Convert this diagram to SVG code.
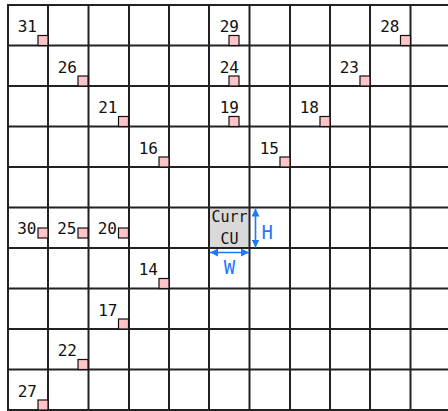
<svg xmlns="http://www.w3.org/2000/svg" width="448" height="411" viewBox="0 0 448 411">
<defs>
<style>
.grid line{stroke:#222;stroke-width:2}
.cand{fill:#ffc4c8;stroke:#111;stroke-width:1.2}
.lbl{font-family:"DejaVu Sans Mono",monospace;font-size:16px;fill:#111;text-anchor:end}
.cu{fill:#d9d9d9}
.cut{font-family:"DejaVu Sans Mono",monospace;font-size:15px;fill:#111;text-anchor:middle}
.dim{stroke:#1f78ff;stroke-width:1.6;fill:none;marker-start:url(#ah);marker-end:url(#ah)}
.dimt{font-family:"DejaVu Sans Mono",monospace;font-size:19px;fill:#1f78ff}
</style>
<marker id="ah" viewBox="0 0 10 10" refX="10" refY="5" markerWidth="5" markerHeight="5" orient="auto-start-reverse" markerUnits="strokeWidth">
<path d="M0,0 L10,5 L0,10 z" fill="#1f78ff"/>
</marker>
</defs>
<rect width="448" height="411" fill="#fff"/>
<g id="cu">
<rect class="cu" x="209" y="207.5" width="40.5" height="40.5"/>
</g>
<g class="grid" id="grid">
<line x1="8" y1="5" x2="8" y2="410"/>
<line x1="48" y1="5" x2="48" y2="410"/>
<line x1="88.5" y1="5" x2="88.5" y2="410"/>
<line x1="129" y1="5" x2="129" y2="410"/>
<line x1="169" y1="5" x2="169" y2="410"/>
<line x1="209" y1="5" x2="209" y2="410"/>
<line x1="249.5" y1="5" x2="249.5" y2="410"/>
<line x1="290" y1="5" x2="290" y2="410"/>
<line x1="330" y1="5" x2="330" y2="410"/>
<line x1="370" y1="5" x2="370" y2="410"/>
<line x1="410.5" y1="5" x2="410.5" y2="410"/>
<line x1="7" y1="5" x2="448" y2="5"/>
<line x1="7" y1="45.5" x2="448" y2="45.5"/>
<line x1="7" y1="86" x2="448" y2="86"/>
<line x1="7" y1="126.5" x2="448" y2="126.5"/>
<line x1="7" y1="167" x2="448" y2="167"/>
<line x1="7" y1="207.5" x2="448" y2="207.5"/>
<line x1="7" y1="248" x2="448" y2="248"/>
<line x1="7" y1="288.5" x2="448" y2="288.5"/>
<line x1="7" y1="329" x2="448" y2="329"/>
<line x1="7" y1="369.5" x2="448" y2="369.5"/>
<line x1="7" y1="410" x2="448" y2="410"/>
</g>
<g id="cu-label">
<text class="cut" x="229.5" y="222.3">Curr</text>
<text class="cut" x="229.5" y="244">CU</text>
</g>
<g id="c31"><rect class="cand" x="38" y="35.5" width="10" height="10"/><text class="lbl" x="37" y="32">31</text></g>
<g id="c26"><rect class="cand" x="78" y="76" width="10" height="10"/><text class="lbl" x="77" y="72.5">26</text></g>
<g id="c21"><rect class="cand" x="118.5" y="116.5" width="10" height="10"/><text class="lbl" x="117.5" y="113">21</text></g>
<g id="c16"><rect class="cand" x="159" y="157" width="10" height="10"/><text class="lbl" x="158" y="153.5">16</text></g>
<g id="c29"><rect class="cand" x="229" y="35.5" width="10" height="10"/><text class="lbl" x="239" y="32">29</text></g>
<g id="c24"><rect class="cand" x="229" y="76" width="10" height="10"/><text class="lbl" x="239" y="72.5">24</text></g>
<g id="c19"><rect class="cand" x="229" y="116.5" width="10" height="10"/><text class="lbl" x="239" y="113">19</text></g>
<g id="c15"><rect class="cand" x="280" y="157" width="10" height="10"/><text class="lbl" x="279" y="153.5">15</text></g>
<g id="c18"><rect class="cand" x="320" y="116.5" width="10" height="10"/><text class="lbl" x="319" y="113">18</text></g>
<g id="c23"><rect class="cand" x="360" y="76" width="10" height="10"/><text class="lbl" x="359" y="72.5">23</text></g>
<g id="c28"><rect class="cand" x="400.5" y="35.5" width="10" height="10"/><text class="lbl" x="399.5" y="32">28</text></g>
<g id="c30"><rect class="cand" x="38" y="228" width="10" height="10"/><text class="lbl" x="36.5" y="234">30</text></g>
<g id="c25"><rect class="cand" x="78" y="228" width="10" height="10"/><text class="lbl" x="76.5" y="234">25</text></g>
<g id="c20"><rect class="cand" x="118.5" y="228" width="10" height="10"/><text class="lbl" x="117" y="234">20</text></g>
<g id="c14"><rect class="cand" x="159" y="278.5" width="10" height="10"/><text class="lbl" x="158" y="275">14</text></g>
<g id="c17"><rect class="cand" x="118.5" y="319" width="10" height="10"/><text class="lbl" x="117.5" y="316">17</text></g>
<g id="c22"><rect class="cand" x="78" y="359.5" width="10" height="10"/><text class="lbl" x="77" y="356">22</text></g>
<g id="c27"><rect class="cand" x="38" y="400" width="10" height="10"/><text class="lbl" x="37" y="396.5">27</text></g>
<g id="connectors">
<line class="dim" x1="255.5" y1="208.5" x2="255.5" y2="247.5"/>
<line class="dim" x1="210" y1="252.5" x2="249" y2="252.5"/>
</g>
<g id="dim-labels">
<text class="dimt" x="261.5" y="238.5">H</text>
<text class="dimt" x="229.5" y="273.5" text-anchor="middle">W</text>
</g>
</svg>
